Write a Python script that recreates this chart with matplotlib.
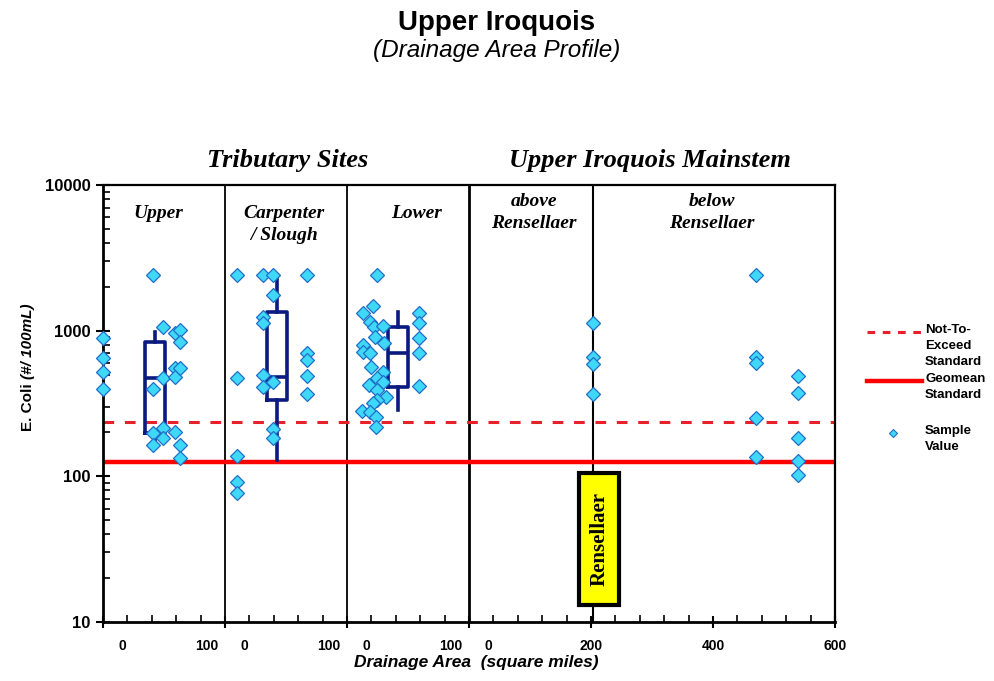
import numpy as np
import matplotlib.pyplot as plt
from matplotlib.patches import Rectangle
from matplotlib.lines import Line2D
from matplotlib.ticker import FixedLocator, MultipleLocator, NullFormatter
import matplotlib.transforms as mtransforms

# ---- data ----
trib_names = ["Upper", "Carpenter\n/ Slough", "Lower"]

upper_area = [0, 0, 0, 0, 58, 58, 58, 58, 70, 70, 70, 70, 84, 84, 84, 84, 90, 90, 90, 90, 90]
upper_ecoli = [890, 649, 520, 397, 2420, 397, 198, 164, 1058, 473, 214, 183,
               963, 553, 480, 201, 1010, 835, 553, 164, 134]

carp_area = [14, 14, 14, 14, 14, 44, 44, 44, 44, 44, 56, 56, 56, 56, 56, 95, 95, 95, 95, 95]
carp_ecoli = [2420, 473, 138, 91, 77, 2420, 1240, 1127, 495, 410,
              2420, 1754, 444, 211, 183, 2420, 701, 628, 488, 367]

lower_area = [35, 30, 19, 27, 31, 42, 33, 43, 19, 19, 27, 28, 42, 35, 26, 42, 35, 45, 35, 30,
              17, 27, 34, 34, 84, 84, 84, 84, 84]
lower_ecoli = [2420, 1476, 1322, 1146, 1059, 1076, 904, 822, 797, 713, 702, 562, 520, 473, 424,
               444, 391, 350, 334, 318, 281, 276, 255, 218, 1322, 1127, 890, 702, 417]

main_area = [204, 204, 204, 204, 470, 470, 470, 470, 470, 540, 540, 540, 540, 540]
main_ecoli = [1127, 659, 590, 367, 2420, 659, 600, 251, 136, 488, 373, 183, 127, 102]

# box plots for the tributary groups
box_area = [60, 60, 59]
box_med = [473, 480, 702]
box_q1 = [198, 334, 410]
box_q3 = [835, 1343, 1059]
box_lo = [164, 129, 285]
box_hi = [980, 2420, 1343]

nte_standard = 235
geomean_standard = 126
rensellaer_area = 204

# ---- helpers: each tributary panel is 200 plot units wide, mainstem 0-600 follows ----
TRIB_SCALE = 1.41


def trib_x(panel, area):
    return 200 * panel + np.asarray(area, dtype=float) * TRIB_SCALE


def main_x(area):
    return 600 + np.asarray(area, dtype=float)


def fy(py):
    return 1 - py / 681


fig = plt.figure(figsize=(9.94, 6.81), dpi=100)
ax = fig.add_axes([103 / 994, 1 - 622 / 681, 732 / 994, 437 / 681])

serif = ['Liberation Serif', 'DejaVu Serif']
sans = ['Liberation Sans', 'DejaVu Sans']
narrow = ['Liberation Sans Narrow', 'Liberation Sans', 'DejaVu Sans']

ax.set_yscale('log')
ax.set_ylim(10, 10000)
ax.set_xlim(0, 1200)

# standards
ax.axhline(geomean_standard, color='#ff0000', lw=3.2, zorder=2)
ax.axhline(nte_standard, color='#e8202a', lw=2.2, ls=(0, (3.5, 3.5)), zorder=2)

# panel dividers
for xv, lw in [(200, 1.3), (400, 1.3), (600, 2.0)]:
    ax.axvline(xv, color='black', lw=lw, zorder=1)
ax.axvline(main_x(rensellaer_area), color='black', lw=1.5, zorder=1)

# box plots
stats = []
for i in range(3):
    stats.append(dict(med=box_med[i], q1=box_q1[i], q3=box_q3[i],
                      whislo=box_lo[i], whishi=box_hi[i], fliers=[]))
pos = [float(trib_x(i, box_area[i])) for i in range(3)]
navy = '#0a1a80'
ax.bxp(stats, positions=pos, widths=33, showfliers=False, showcaps=False,
       manage_ticks=False,
       boxprops=dict(color=navy, lw=2.6),
       whiskerprops=dict(color=navy, lw=2.6),
       medianprops=dict(color=navy, lw=2.6))

# sample values
mk = dict(ls='none', marker='D', ms=6.8, mfc='#40d8f8', mec='#1f6fc8', mew=0.9,
          zorder=4, clip_on=False)
ax.plot(trib_x(0, upper_area), upper_ecoli, **mk)
ax.plot(trib_x(1, carp_area), carp_ecoli, **mk)
ax.plot(trib_x(2, lower_area), lower_ecoli, **mk)
ax.plot(main_x(main_area), main_ecoli, **mk)

# Rensellaer marker box
rx0, rx1 = main_x(181), main_x(246)
ax.add_patch(Rectangle((rx0, 13.1), rx1 - rx0, 105 - 13.1, facecolor='#ffff00',
                       edgecolor='black', lw=3, zorder=5))
ax.text((rx0 + rx1) / 2, 37, 'Rensellaer', rotation=90, ha='center', va='center',
        family=serif, fontweight='bold', fontsize=15, zorder=6)

# axes styling
for s in ax.spines.values():
    s.set_linewidth(1.6)
ax.spines['left'].set_linewidth(2)
ax.spines['bottom'].set_linewidth(2)

ax.xaxis.set_major_locator(MultipleLocator(200))
ax.xaxis.set_minor_locator(MultipleLocator(40))
ax.xaxis.set_major_formatter(NullFormatter())
ax.tick_params(axis='x', which='major', direction='inout', length=9, width=1.5, top=False)
ax.tick_params(axis='x', which='minor', direction='in', length=5, width=1.2, top=False)

ax.yaxis.set_major_locator(FixedLocator([10, 100, 1000, 10000]))
ax.set_yticklabels(['10', '100', '1000', '10000'])
ax.tick_params(axis='y', which='major', direction='inout', length=10, width=1.5,
               labelsize=12, pad=4, right=False)
ax.tick_params(axis='y', which='minor', direction='in', length=5, width=1.2, right=False)
for lab in ax.get_yticklabels():
    lab.set_family(sans)
    lab.set_fontweight('bold')

# x tick labels (one scale per panel)
tick_vals = []
tick_labels = []
for i in range(3):
    tick_vals += [float(trib_x(i, 22)), float(trib_x(i, 121))]
    tick_labels += ['0', '100']
for m, lab in [(32, '0'), (200, '200'), (400, '400'), (600, '600')]:
    tick_vals.append(float(main_x(m)))
    tick_labels.append(lab)
xtr = mtransforms.blended_transform_factory(ax.transData, ax.transAxes)
for xv, lab in zip(tick_vals, tick_labels):
    ax.text(xv, -0.055, lab, transform=xtr, ha='center', va='center',
            family=narrow, fontweight='bold', fontsize=10)

fig.text(476 / 994, fy(663), 'Drainage Area  (square miles)', ha='center', va='center',
         family=narrow, fontweight='bold', style='italic', fontsize=12.5)

# y label in two parts
fig.text(28 / 994, fy(383), 'E. Coli', rotation=90, ha='center', va='top',
         family=sans, fontweight='bold', fontsize=11)
fig.text(28 / 994, fy(379), '(#/ 100mL)', rotation=90, ha='center', va='bottom',
         family=sans, fontweight='bold', style='italic', fontsize=11)

# section and panel headers
fig.text(288 / 994, fy(161), 'Tributary Sites', ha='center', va='center',
         family=serif, fontweight='bold', style='italic', fontsize=19)
fig.text(650 / 994, fy(160), 'Upper Iroquois Mainstem', ha='center', va='center',
         family=serif, fontweight='bold', style='italic', fontsize=19)

hdr = dict(ha='center', va='top', family=serif, fontweight='bold', style='italic',
           fontsize=14, linespacing=1.4)
fig.text(158 / 994, fy(205), trib_names[0], **hdr)
fig.text(284 / 994, fy(205), trib_names[1], **hdr)
fig.text(417 / 994, fy(205), trib_names[2], **hdr)
fig.text(534 / 994, fy(193), 'above\nRensellaer', **hdr)
fig.text(712 / 994, fy(193), 'below\nRensellaer', **hdr)

# titles
fig.text(497 / 994, fy(23), 'Upper Iroquois', ha='center', va='center',
         family=sans, fontweight='bold', fontsize=20)
fig.text(497 / 994, fy(51), '(Drainage Area Profile)', ha='center', va='center',
         family=sans, style='italic', fontsize=17.5)

# legend (drawn by hand to match the stacked labels)
fig.add_artist(Line2D([867 / 994, 922 / 994], [fy(332), fy(332)], color='#e8202a', lw=2.2,
                      ls=(0, (2.5, 2.5))))
fig.add_artist(Line2D([867 / 994, 922 / 994], [fy(381), fy(381)], color='#ff0000', lw=3.2))
fig.add_artist(Line2D([893 / 994], [fy(433)], ls='none', marker='D', ms=4.5, mfc='#40d8f8',
                      mec='#1f6fc8', mew=0.8))
leg = dict(ha='left', va='top', family=narrow, fontweight='bold', fontsize=9.5,
           linespacing=1.45)
fig.text(925 / 994, fy(324), 'Not-To-\nExceed\nStandard', **leg)
fig.text(925 / 994, fy(373), 'Geomean\nStandard', **leg)
fig.text(925 / 994, fy(425), 'Sample\nValue', **leg)

fig.savefig('out.png', dpi=100)
